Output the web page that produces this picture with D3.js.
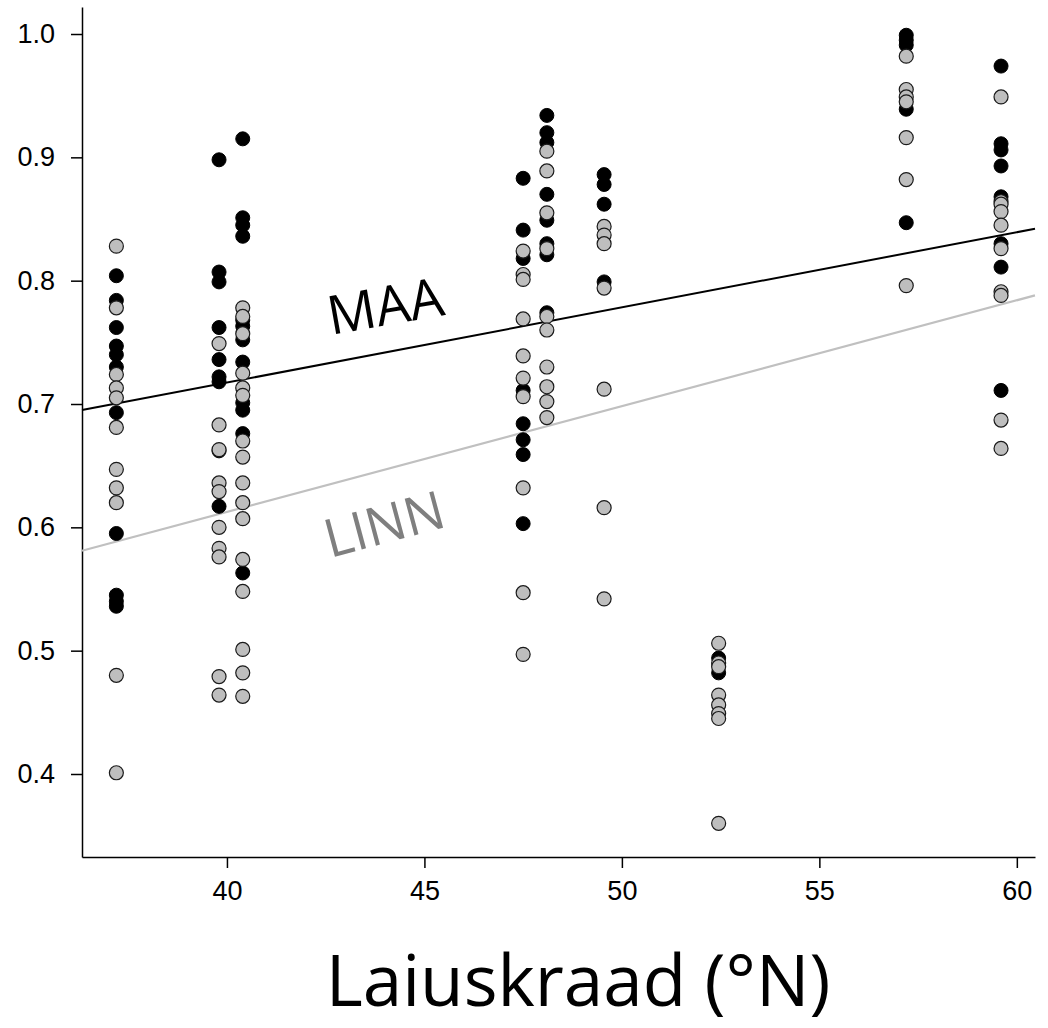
<!DOCTYPE html>
<html>
<head>
<meta charset="utf-8">
<script src="https://cdn.jsdelivr.net/npm/d3@7"></script>
<style>
  html, body { margin: 0; padding: 0; background: #fff; }
  #chart { width: 1048px; height: 1028px; }
</style>
</head>
<body>
<div id="chart"></div>
<script>
// sampled latitudes (deg N)
const latitudes = [37.2, 39.8, 40.4, 47.5, 48.1, 49.55, 52.45, 57.2, 59.6];

// MAA (black) values per latitude
const maaValues = [
  [0.804, 0.784, 0.762, 0.747, 0.740, 0.730, 0.693, 0.595, 0.545, 0.540, 0.536],
  [0.898, 0.807, 0.799, 0.762, 0.736, 0.722, 0.718, 0.662, 0.617],
  [0.915, 0.851, 0.845, 0.836, 0.768, 0.763, 0.752, 0.734, 0.701, 0.695, 0.676, 0.563],
  [0.883, 0.841, 0.818, 0.711, 0.684, 0.671, 0.659, 0.603],
  [0.934, 0.920, 0.912, 0.870, 0.849, 0.830, 0.821, 0.774],
  [0.886, 0.878, 0.862, 0.799],
  [0.494, 0.482],
  [0.999, 0.995, 0.991, 0.939, 0.847],
  [0.974, 0.911, 0.906, 0.893, 0.868, 0.830, 0.811, 0.711]
];

// LINN (grey) values per latitude
const linnValues = [
  [0.828, 0.778, 0.724, 0.713, 0.705, 0.681, 0.647, 0.632, 0.620, 0.480, 0.401],
  [0.749, 0.683, 0.663, 0.636, 0.629, 0.600, 0.583, 0.576, 0.479, 0.464],
  [0.778, 0.771, 0.757, 0.725, 0.713, 0.707, 0.670, 0.657, 0.636, 0.620, 0.607, 0.574, 0.548, 0.501, 0.482, 0.463],
  [0.824, 0.805, 0.801, 0.769, 0.739, 0.721, 0.706, 0.632, 0.547, 0.497],
  [0.905, 0.889, 0.855, 0.826, 0.771, 0.760, 0.730, 0.714, 0.702, 0.689],
  [0.844, 0.837, 0.830, 0.794, 0.712, 0.616, 0.542],
  [0.506, 0.490, 0.487, 0.464, 0.456, 0.449, 0.445, 0.360],
  [0.982, 0.955, 0.949, 0.945, 0.916, 0.882, 0.796],
  [0.949, 0.864, 0.862, 0.856, 0.845, 0.826, 0.791, 0.788, 0.687, 0.664]
];

// fitted lines: [intercept, slope]
const maaFit = [0.4737, 0.006093];
const linnFit = [0.2693, 0.00858];

const xTicks = [40, 45, 50, 55, 60];
const yTicks = [0.4, 0.5, 0.6, 0.7, 0.8, 0.9, 1.0];

const width = 1048;
const height = 1028;

const x = d3.scaleLinear().domain([36.33, 60.46]).range([82, 1035]);
const y = d3.scaleLinear().domain([0.3327, 1.0219]).range([857, 7]);

const svg = d3.select("#chart").append("svg")
  .attr("width", width)
  .attr("height", height);

function flatten(values) {
  const out = [];
  latitudes.forEach((lat, i) => values[i].forEach(v => out.push({ lat: lat, v: v })));
  return out;
}

// axes
const xAxis = svg.append("g")
  .attr("transform", `translate(0,${y.range()[0]})`)
  .call(d3.axisBottom(x).tickValues(xTicks).tickSize(11).tickPadding(13).tickSizeOuter(0)
    .tickFormat(d3.format("d")));

const yAxis = svg.append("g")
  .attr("transform", `translate(${x.range()[0]},0)`)
  .call(d3.axisLeft(y).tickValues(yTicks).tickSize(11).tickPadding(16).tickSizeOuter(0)
    .tickFormat(d3.format(".1f")));

[xAxis, yAxis].forEach(g => {
  g.selectAll("path, line").attr("stroke", "#000").attr("stroke-width", 1.5);
  g.selectAll("text")
    .attr("fill", "#000")
    .style("font-family", "'Liberation Sans', Arial, sans-serif")
    .style("font-size", "27px");
});

// regression lines
function fitLine(fit) {
  return x.domain().map(lat => [x(lat), y(fit[0] + fit[1] * lat)]);
}

svg.append("path")
  .attr("d", d3.line()(fitLine(maaFit)))
  .attr("stroke", "#000")
  .attr("stroke-width", 2)
  .attr("fill", "none");

svg.append("path")
  .attr("d", d3.line()(fitLine(linnFit)))
  .attr("stroke", "#c0c0c0")
  .attr("stroke-width", 2.2)
  .attr("fill", "none");

// points: black first, grey on top
svg.append("g")
  .selectAll("circle")
  .data(flatten(maaValues))
  .enter()
  .append("circle")
  .attr("cx", d => x(d.lat))
  .attr("cy", d => y(d.v))
  .attr("r", 7)
  .attr("fill", "#000")
  .attr("stroke", "#000")
  .attr("stroke-width", 1);

svg.append("g")
  .selectAll("circle")
  .data(flatten(linnValues))
  .enter()
  .append("circle")
  .attr("cx", d => x(d.lat))
  .attr("cy", d => y(d.v))
  .attr("r", 7)
  .attr("fill", "#bebebe")
  .attr("stroke", "#1a1a1a")
  .attr("stroke-width", 1.2);

// line labels
svg.append("text")
  .attr("transform", "translate(331,335) rotate(-10)")
  .text("MAA")
  .attr("fill", "#000")
  .style("font-family", "'Open Sans', Lato, sans-serif")
  .style("font-size", "54px");

svg.append("text")
  .attr("transform", "translate(330,558) rotate(-15)")
  .text("LINN")
  .attr("fill", "#7f7f7f")
  .style("font-family", "'Open Sans', Lato, sans-serif")
  .style("font-size", "53px");

// x axis title
svg.append("text")
  .attr("x", 578)
  .attr("y", 1006)
  .attr("text-anchor", "middle")
  .text("Laiuskraad (°N)")
  .attr("fill", "#000")
  .style("font-family", "'Open Sans', Lato, sans-serif")
  .style("font-size", "71px");
</script>
</body>
</html>
